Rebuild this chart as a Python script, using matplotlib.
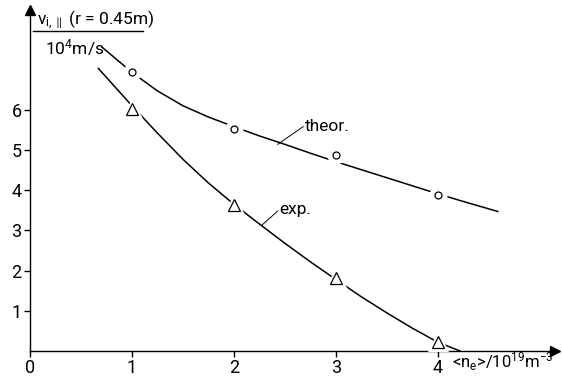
import matplotlib.pyplot as plt

plt.rcParams['font.family'] = ['Roboto', 'DejaVu Sans']
plt.rcParams['mathtext.fontset'] = 'custom'
plt.rcParams['mathtext.rm'] = 'Roboto'
plt.rcParams['mathtext.it'] = 'Roboto'
plt.rcParams['mathtext.default'] = 'regular'

# measured points
dens = [1, 2, 3, 4]
v_theor = [6.93, 5.51, 4.88, 3.88]
v_exp = [6.02, 3.63, 1.81, 0.22]

# hand-drawn curves
theor_x = [0.71, 1.0, 1.25, 1.5, 1.75, 2.0, 2.25, 2.5, 2.75, 3.0, 3.25, 3.5, 3.75, 4.0, 4.25, 4.59]
theor_y = [7.55, 6.93, 6.47, 6.10, 5.82, 5.58, 5.35, 5.14, 4.92, 4.71, 4.51, 4.31, 4.11, 3.91, 3.72, 3.47]
exp_x = [0.67, 1.0, 1.25, 1.5, 1.75, 2.0, 2.25, 2.5, 2.75, 3.0, 3.25, 3.5, 3.75, 4.0, 4.22]
exp_y = [7.03, 6.10, 5.42, 4.77, 4.18, 3.65, 3.16, 2.68, 2.22, 1.78, 1.35, 0.95, 0.57, 0.22, 0.0]

xticks = [0, 1, 2, 3, 4]
yticks = [1, 2, 3, 4, 5, 6]

fig = plt.figure(figsize=(5.62, 3.78), dpi=100)
ax = fig.add_axes([0.0534, 0.0714, 0.934, 0.902])
ax.set_xlim(0, 5.15)
ax.set_ylim(0, 8.48)

for s in ['top', 'right']:
    ax.spines[s].set_visible(False)
for s in ['left', 'bottom']:
    ax.spines[s].set_linewidth(1.0)

ax.plot(1, 0, '>', color='black', ms=7, transform=ax.transAxes, clip_on=False)
ax.plot(0, 1, '^', color='black', ms=7, transform=ax.transAxes, clip_on=False)

ax.set_xticks(xticks)
ax.set_xticklabels([str(t) for t in xticks])
ax.set_yticks(yticks)
ax.set_yticklabels([str(t) for t in yticks])
ax.tick_params(direction='out', length=4, width=1, labelsize=13, pad=2)

ax.plot(theor_x, theor_y, color='black', lw=1.1, zorder=2)
ax.plot(exp_x, exp_y, color='black', lw=1.1, zorder=2)

# white halos give the gaps around the markers
ax.plot(dens, v_theor, 'o', ms=12, color='white', zorder=3)
ax.plot(dens, v_exp, '^', ms=15, color='white', zorder=3)
ax.plot(dens, v_theor, 'o', ms=5, mfc='white', mec='black', mew=0.9, zorder=4)
ax.plot(dens, v_exp, '^', ms=9, mfc='white', mec='black', mew=0.9, zorder=4)

ax.plot([2.43, 2.68], [5.14, 5.58], color='black', lw=0.7)
ax.text(2.70, 5.58, 'theor.', fontsize=12.5, va='center', ha='left')
ax.plot([2.27, 2.43], [3.12, 3.48], color='black', lw=0.7)
ax.text(2.45, 3.51, 'exp.', fontsize=12.5, va='center', ha='left')

# y label as a fraction
ax.text(0.07, 8.22, r'$v_{i,\parallel}$ (r = 0.45m)', fontsize=12.5, va='center', ha='left')
ax.plot([0.03, 1.11], [7.96, 7.96], color='black', lw=1.0, clip_on=False)
ax.text(0.15, 7.55, r'$10^4$m/s', fontsize=12.5, va='center', ha='left')

ax.text(4.14, -0.27, r'<n$_e$>/10$^{19}$m$^{-3}$', fontsize=12, va='center', ha='left')

fig.savefig('out.png', dpi=100)
